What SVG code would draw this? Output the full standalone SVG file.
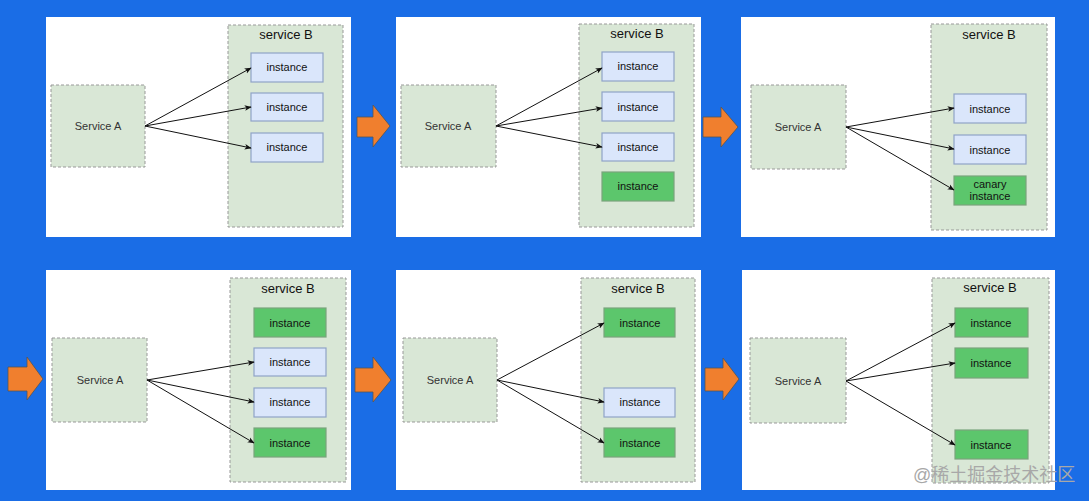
<svg xmlns="http://www.w3.org/2000/svg" width="1089" height="501" viewBox="0 0 1089 501">
<style>
.bg{fill:#1a6de6}
.panel{fill:#ffffff}
.svcA{fill:#d9e7d6;stroke:#999;stroke-width:1;stroke-dasharray:3 2}
.svcB{fill:#d9e7d6;stroke:#999;stroke-width:1;stroke-dasharray:3 2}
.inst{fill:#dae6fb;stroke:#8fa3c7;stroke-width:1.2}
.green{fill:#5cc66c;stroke:#7aa47c;stroke-width:1.2}
.t{font-family:"Liberation Sans",Arial,sans-serif;font-size:11px;fill:#111;text-anchor:middle}
.ta{font-family:"Liberation Sans",Arial,sans-serif;font-size:11px;fill:#333;text-anchor:middle}
.tb{font-family:"Liberation Sans",Arial,sans-serif;font-size:13px;fill:#111;text-anchor:middle}
.conn{stroke:#111;stroke-width:1;fill:none;marker-end:url(#ah)}
.big{fill:#f07f2e;stroke:#555;stroke-width:0.8}
.wm{font-family:"Liberation Sans","Noto Sans CJK SC",sans-serif;font-size:18px;fill:#a8a8a8}
</style>
<defs>
<marker id="ah" viewBox="0 0 10 10" refX="9" refY="5" markerWidth="7" markerHeight="7" orient="auto" markerUnits="userSpaceOnUse">
<path d="M0,1 L10,5 L0,9 L2.5,5 Z" fill="#111"/>
</marker>
</defs>
<rect class="bg" x="0" y="0" width="1089" height="501"/>
<g id="panels">
<rect class="panel" x="46" y="17" width="305" height="220"/>
<rect class="panel" x="396" y="17" width="305" height="220"/>
<rect class="panel" x="741" y="17" width="314" height="220"/>
<rect class="panel" x="46" y="270" width="305" height="220"/>
<rect class="panel" x="396" y="270" width="305" height="220"/>
<rect class="panel" x="742" y="270" width="313" height="220"/>
</g>
<g id="stage-arrows">
<polygon class="big" points="357,117 373,117 373,105 390,126 373,147 373,137 357,137"/>
<polygon class="big" points="703,117 721,117 721,107 738,127 721,147 721,137 703,137"/>
<polygon class="big" points="8,367 27,367 27,357 43,379 27,400 27,391 8,391"/>
<polygon class="big" points="355,368 373,368 373,357 391,380 373,402 373,392 355,392"/>
<polygon class="big" points="705,368 723,368 723,358 739,379 723,400 723,391 705,391"/>
</g>
<!-- Panel 1 -->
<g id="p1-serviceA"><rect class="svcA" x="51" y="85" width="94" height="82"/><text class="ta" x="98" y="130">Service A</text></g>
<g id="p1-serviceB"><rect class="svcB" x="228" y="25" width="115" height="202"/><text class="tb" x="286" y="39">service B</text></g>
<g id="p1-inst1"><rect class="inst" x="251" y="53" width="72" height="29"/><text class="t" x="287" y="71">instance</text></g>
<g id="p1-inst2"><rect class="inst" x="251" y="93" width="72" height="28"/><text class="t" x="287" y="111">instance</text></g>
<g id="p1-inst3"><rect class="inst" x="251" y="133" width="72" height="29"/><text class="t" x="287" y="151">instance</text></g>
<!-- Panel 2 -->
<g id="p2-serviceA"><rect class="svcA" x="401" y="85" width="95" height="82"/><text class="ta" x="448" y="130">Service A</text></g>
<g id="p2-serviceB"><rect class="svcB" x="579" y="24" width="115" height="203"/><text class="tb" x="637" y="38">service B</text></g>
<g id="p2-inst1"><rect class="inst" x="602" y="52" width="72" height="29"/><text class="t" x="638" y="70">instance</text></g>
<g id="p2-inst2"><rect class="inst" x="602" y="92" width="72" height="29"/><text class="t" x="638" y="111">instance</text></g>
<g id="p2-inst3"><rect class="inst" x="602" y="133" width="72" height="28"/><text class="t" x="638" y="151">instance</text></g>
<g id="p2-inst4"><rect class="green" x="602" y="172" width="72" height="29"/><text class="t" x="638" y="190">instance</text></g>
<!-- Panel 3 -->
<g id="p3-serviceA"><rect class="svcA" x="751" y="85" width="95" height="84"/><text class="ta" x="798" y="131">Service A</text></g>
<g id="p3-serviceB"><rect class="svcB" x="931" y="24" width="116" height="206"/><text class="tb" x="989" y="39">service B</text></g>
<g id="p3-inst1"><rect class="inst" x="954" y="94" width="72" height="29"/><text class="t" x="990" y="113">instance</text></g>
<g id="p3-inst2"><rect class="inst" x="954" y="135" width="72" height="29"/><text class="t" x="990" y="154">instance</text></g>
<g id="p3-canary"><rect class="green" x="954" y="176" width="72" height="29"/><text class="t" x="990" y="188">canary</text><text class="t" x="990" y="200">instance</text></g>
<!-- Panel 4 -->
<g id="p4-serviceA"><rect class="svcA" x="52" y="338" width="95" height="84"/><text class="ta" x="100" y="384">Service A</text></g>
<g id="p4-serviceB"><rect class="svcB" x="230" y="278" width="116" height="204"/><text class="tb" x="288" y="293">service B</text></g>
<g id="p4-inst1"><rect class="green" x="254" y="308" width="72" height="29"/><text class="t" x="290" y="327">instance</text></g>
<g id="p4-inst2"><rect class="inst" x="254" y="348" width="72" height="28"/><text class="t" x="290" y="366">instance</text></g>
<g id="p4-inst3"><rect class="inst" x="254" y="388" width="72" height="29"/><text class="t" x="290" y="406">instance</text></g>
<g id="p4-inst4"><rect class="green" x="254" y="428" width="72" height="29"/><text class="t" x="290" y="447">instance</text></g>
<!-- Panel 5 -->
<g id="p5-serviceA"><rect class="svcA" x="403" y="338" width="94" height="84"/><text class="ta" x="450" y="384">Service A</text></g>
<g id="p5-serviceB"><rect class="svcB" x="581" y="278" width="114" height="204"/><text class="tb" x="638" y="293">service B</text></g>
<g id="p5-inst1"><rect class="green" x="604" y="308" width="71" height="29"/><text class="t" x="640" y="327">instance</text></g>
<g id="p5-inst2"><rect class="inst" x="604" y="388" width="71" height="29"/><text class="t" x="640" y="406">instance</text></g>
<g id="p5-inst3"><rect class="green" x="604" y="428" width="71" height="29"/><text class="t" x="640" y="447">instance</text></g>
<!-- Panel 6 -->
<g id="p6-serviceA"><rect class="svcA" x="750" y="338" width="96" height="85"/><text class="ta" x="798" y="385">Service A</text></g>
<g id="p6-serviceB"><rect class="svcB" x="932" y="278" width="117" height="205"/><text class="tb" x="990" y="292">service B</text></g>
<g id="p6-inst1"><rect class="green" x="955" y="308" width="73" height="29"/><text class="t" x="991" y="327">instance</text></g>
<g id="p6-inst2"><rect class="green" x="955" y="348" width="73" height="30"/><text class="t" x="991" y="367">instance</text></g>
<g id="p6-inst3"><rect class="green" x="955" y="430" width="73" height="29"/><text class="t" x="991" y="449">instance</text></g>
<g id="connectors">
<line class="conn" x1="145" y1="126" x2="251" y2="68"/>
<line class="conn" x1="145" y1="126" x2="251" y2="107"/>
<line class="conn" x1="145" y1="126" x2="251" y2="148"/>
<line class="conn" x1="496" y1="126" x2="602" y2="68"/>
<line class="conn" x1="496" y1="126" x2="602" y2="108"/>
<line class="conn" x1="496" y1="126" x2="602" y2="147"/>
<line class="conn" x1="846" y1="127" x2="954" y2="108"/>
<line class="conn" x1="846" y1="127" x2="954" y2="149"/>
<line class="conn" x1="846" y1="127" x2="954" y2="190"/>
<line class="conn" x1="147" y1="380" x2="254" y2="362"/>
<line class="conn" x1="147" y1="380" x2="254" y2="402"/>
<line class="conn" x1="147" y1="380" x2="254" y2="443"/>
<line class="conn" x1="497" y1="380" x2="604" y2="323"/>
<line class="conn" x1="497" y1="380" x2="604" y2="402"/>
<line class="conn" x1="497" y1="380" x2="604" y2="443"/>
<line class="conn" x1="846" y1="381" x2="955" y2="323"/>
<line class="conn" x1="846" y1="381" x2="955" y2="363"/>
<line class="conn" x1="846" y1="381" x2="955" y2="445"/>
</g>
<text class="wm" x="913" y="481">@稀土掘金技术社区</text>
</svg>
